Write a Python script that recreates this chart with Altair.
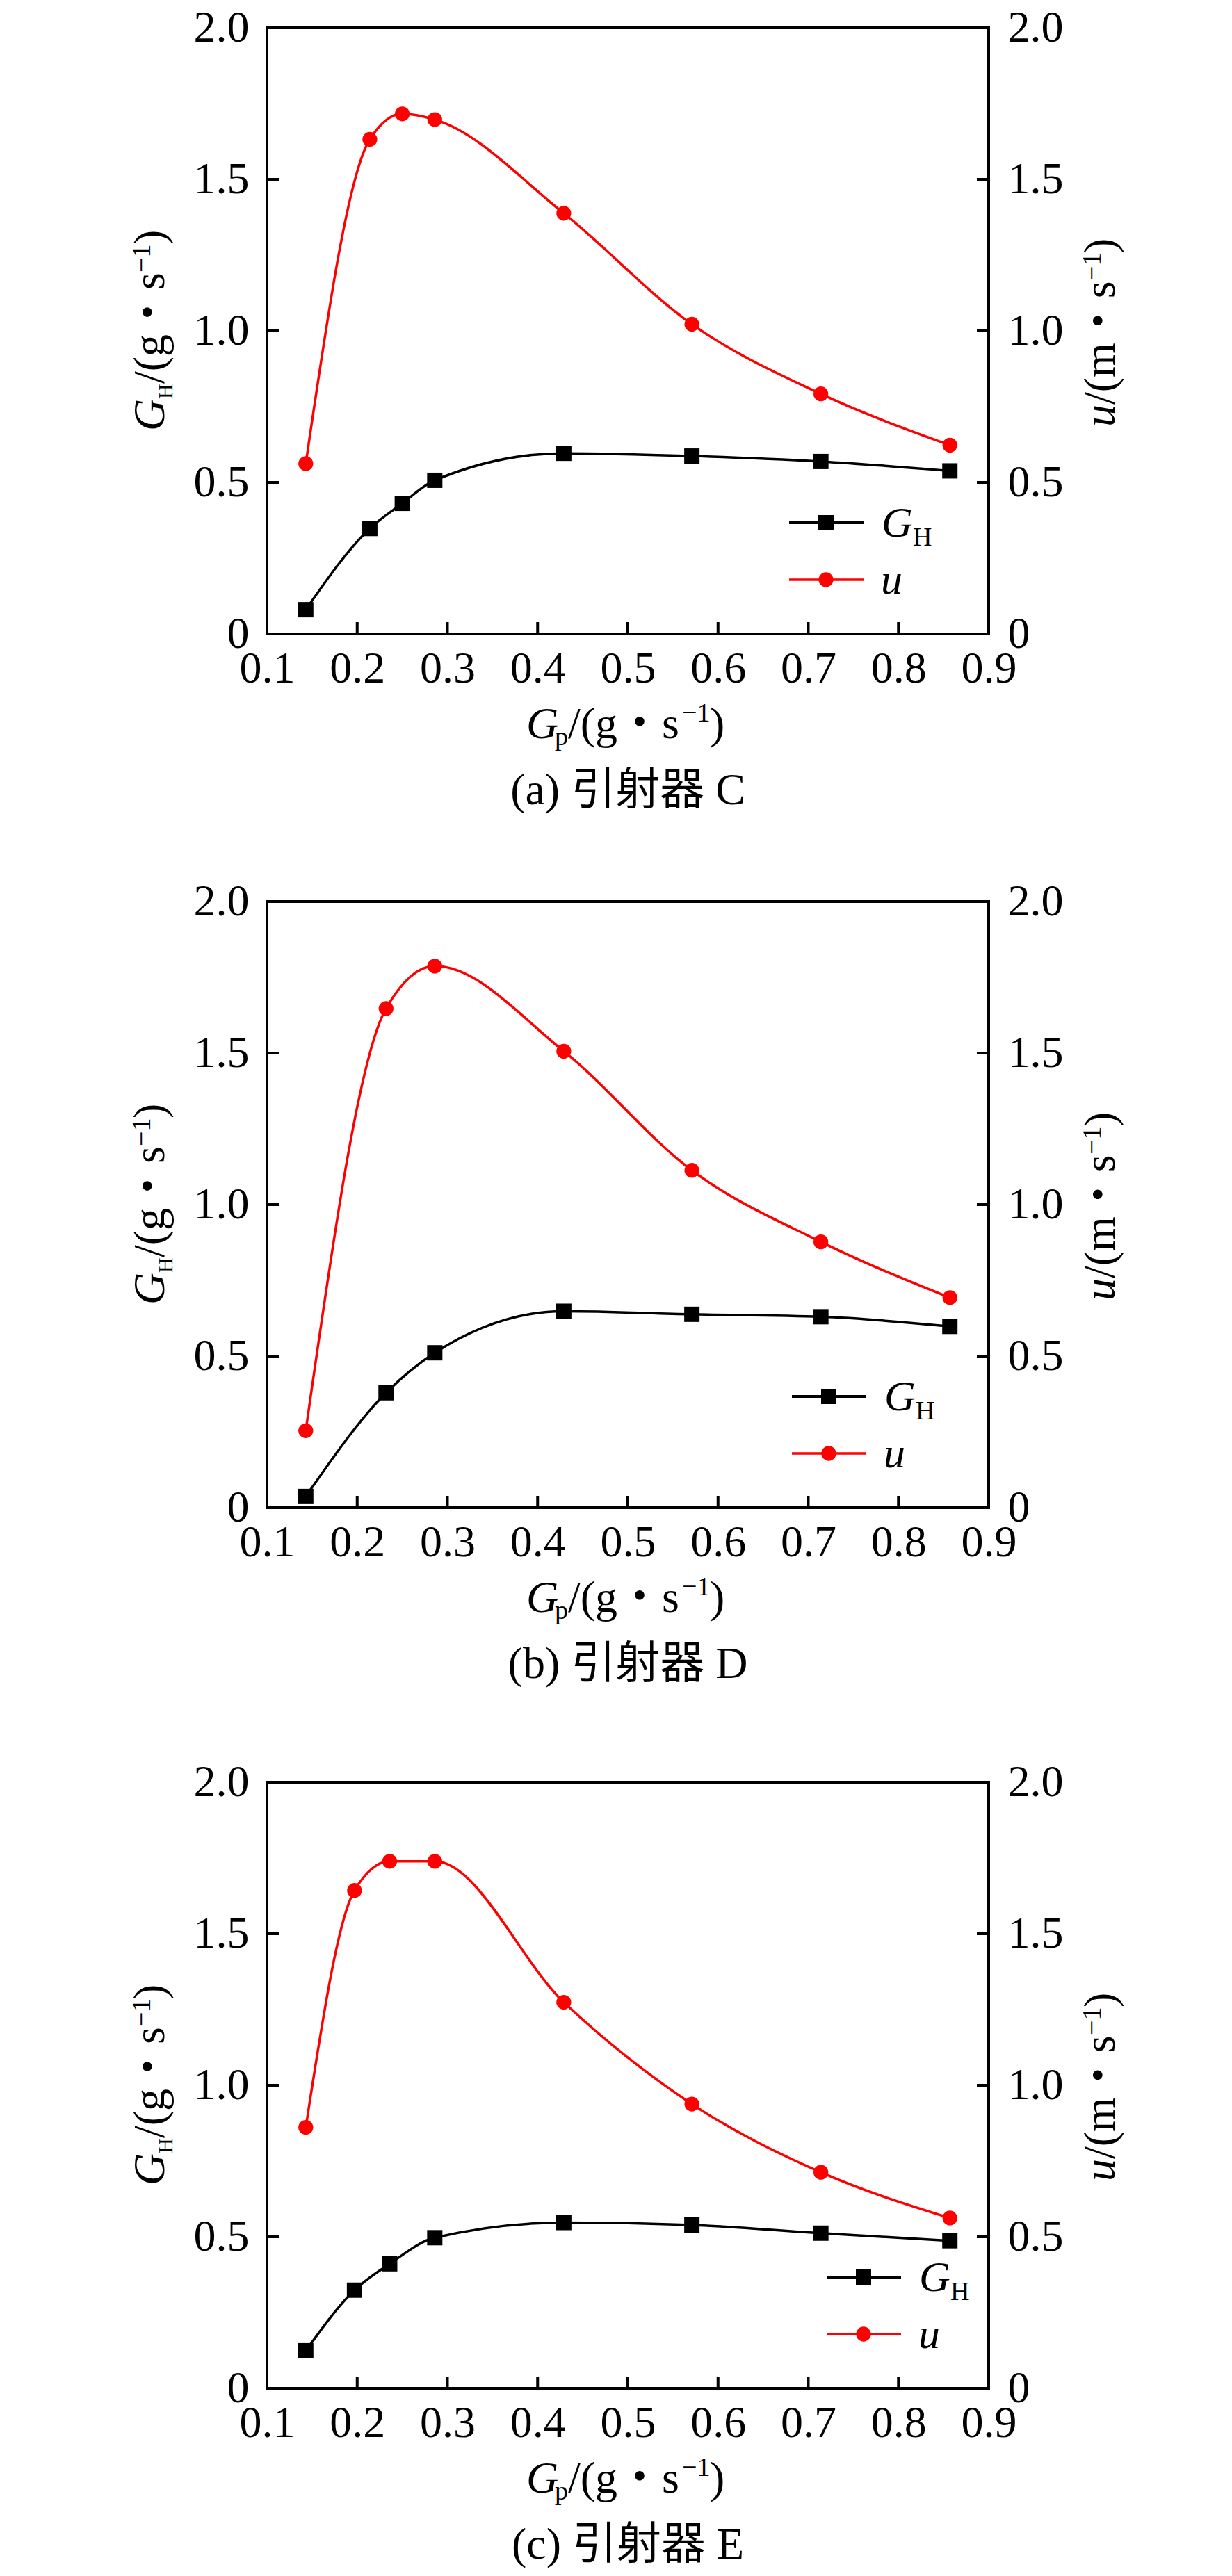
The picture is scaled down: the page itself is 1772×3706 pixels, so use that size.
import altair as alt
import pandas as pd

FONT = "Liberation Serif, Noto Sans CJK SC"
PW, PH = 1038, 872
TL = 17
RED = "#ff0000"

# ---- data ----
x_a = [0.143, 0.214, 0.250, 0.286, 0.429, 0.571, 0.714, 0.857]
gh_a = [0.080, 0.348, 0.431, 0.507, 0.596, 0.587, 0.569, 0.538]
u_a = [0.562, 1.632, 1.716, 1.697, 1.388, 1.022, 0.792, 0.623]

x_b = [0.143, 0.232, 0.286, 0.429, 0.571, 0.714, 0.857]
gh_b = [0.037, 0.379, 0.511, 0.648, 0.638, 0.630, 0.598]
u_b = [0.254, 1.647, 1.787, 1.506, 1.113, 0.877, 0.693]

x_c = [0.143, 0.197, 0.236, 0.286, 0.429, 0.571, 0.714, 0.857]
gh_c = [0.124, 0.324, 0.411, 0.497, 0.547, 0.539, 0.512, 0.487]
u_c = [0.861, 1.643, 1.739, 1.739, 1.274, 0.938, 0.713, 0.562]

x_tick_labels = [0.1, 0.2, 0.3, 0.4, 0.5, 0.6, 0.7, 0.8, 0.9]
y_tick_labels = [0.0, 0.5, 1.0, 1.5, 2.0]
x_inner_ticks = [0.2, 0.3, 0.4, 0.5, 0.6, 0.7, 0.8]
y_inner_ticks = [0.5, 1.0, 1.5]
captions = ["(a) 引射器 C", "(b) 引射器 D", "(c) 引射器 E"]
legend_shift = [0, 4, 54]

one = pd.DataFrame({"k": [0]})

X0, X1, Y0, Y1 = 0.1, 0.9, 0.0, 2.0
xscale = alt.Scale(domain=[X0, X1], nice=False, zero=False)
yscale = alt.Scale(domain=[Y0, Y1], nice=False, zero=False)
LBL = "datum.value == 0 ? '0' : format(datum.value, '.1f')"

xaxis = alt.Axis(values=x_tick_labels, format=".1f", title=None, orient="bottom",
                 ticks=False, tickSize=0, domain=False, grid=False,
                 labelPadding=18, labelFont="Liberation Serif", labelFontSize=64,
                 labelColor="black", labelOverlap=False, labelFlush=False, labelBound=False)
yaxis_l = alt.Axis(values=y_tick_labels, labelExpr=LBL, title=None, orient="left",
                   ticks=False, tickSize=0, domain=False, grid=False,
                   labelPadding=26, labelFont="Liberation Serif", labelFontSize=64,
                   labelColor="black", labelOverlap=False, labelFlush=False, labelBound=False)
yaxis_r = alt.Axis(values=y_tick_labels, labelExpr=LBL, title=None, orient="right",
                   ticks=False, tickSize=0, domain=False, grid=False,
                   labelPadding=27, labelFont="Liberation Serif", labelFontSize=64,
                   labelColor="black", labelOverlap=False, labelFlush=False, labelBound=False)


def txt(s, x, y, size=64, style="normal", angle=0, align="left"):
    return alt.Chart(one).mark_text(
        text=s, font=FONT, fontSize=size, fontStyle=style, angle=angle,
        align=align, baseline="alphabetic", color="black"
    ).encode(x=alt.value(x), y=alt.value(y))


def panel(xs, gh, us, caption, lx, bottom_anchor):
    df = pd.DataFrame({"x": xs, "gh": gh, "u": us})
    xenc = alt.X("x:Q", scale=xscale, axis=xaxis)
    dx = TL * (X1 - X0) / PW
    dy = TL * (Y1 - Y0) / PH

    # inward tick segments built from the tick values
    segs = []
    for t in x_inner_ticks:
        segs.append({"xa": t, "xb": t, "ya": Y0, "yb": Y0 + dy})
    for t in y_inner_ticks:
        segs.append({"xa": X0, "xb": X0 + dx, "ya": t, "yb": t})
        segs.append({"xa": X1 - dx, "xb": X1, "ya": t, "yb": t})
    seg_df = pd.DataFrame(segs)

    # G_H series (left axis)
    y_gh = alt.Y("gh:Q", scale=yscale, axis=yaxis_l)
    gh_line = alt.Chart(df).mark_line(interpolate="monotone", color="black",
                                      strokeWidth=3.5).encode(x=xenc, y=y_gh)
    gh_pts = alt.Chart(df).mark_point(shape="square", filled=True, size=484,
                                      color="black", opacity=1).encode(x=xenc, y=y_gh)
    ticks = alt.Chart(seg_df).mark_rule(color="black", strokeWidth=4).encode(
        x=alt.X("xa:Q", scale=xscale, axis=xaxis), x2="xb:Q",
        y=alt.Y("ya:Q", scale=yscale, axis=yaxis_l), y2="yb:Q")
    gh_layer = alt.layer(gh_line, gh_pts, ticks)

    # u series (right axis)
    y_u = alt.Y("u:Q", scale=yscale, axis=yaxis_r)
    u_line = alt.Chart(df).mark_line(interpolate="monotone", color=RED,
                                     strokeWidth=3.5).encode(x=xenc, y=y_u)
    u_pts = alt.Chart(df).mark_point(shape="circle", filled=True, size=452,
                                     color=RED, opacity=1).encode(x=xenc, y=y_u)
    u_layer = alt.layer(u_line, u_pts)

    frame = alt.Chart(one).mark_rect(fill="transparent", stroke="black",
                                     strokeWidth=4).encode(
        x=alt.value(0), x2=alt.value(PW), y=alt.value(0), y2=alt.value(PH))

    # legend
    leg = [
        alt.Chart(one).mark_rule(color="black", strokeWidth=4).encode(
            x=alt.value(751 + lx), x2=alt.value(858 + lx), y=alt.value(712)),
        alt.Chart(one).mark_point(shape="square", filled=True, size=484, color="black",
                                  opacity=1).encode(x=alt.value(804 + lx), y=alt.value(712)),
        alt.Chart(one).mark_rule(color=RED, strokeWidth=3.5).encode(
            x=alt.value(751 + lx), x2=alt.value(858 + lx), y=alt.value(794)),
        alt.Chart(one).mark_point(shape="circle", filled=True, size=452, color=RED,
                                  opacity=1).encode(x=alt.value(804 + lx), y=alt.value(794)),
        txt("G", 884 + lx, 732, 62, "italic"),
        txt("H", 929 + lx, 745, 38),
        txt("u", 883 + lx, 814, 62, "italic"),
    ]

    # left title  G_H/(g・s^-1)
    lt = [
        txt("G", -148, 580, 64, "italic", 270),
        txt("H", -136, 534, 30, "normal", 270),
        txt("/(g・s", -148, 512, 64, "normal", 270),
        txt("−1", -168, 352, 38, "normal", 270),
        txt(")", -148, 312, 64, "normal", 270),
    ]
    # right title  u/(m・s^-1)
    rt = [
        txt("u", 1219, 574, 64, "italic", 270),
        txt("/(m・s", 1219, 542, 64, "normal", 270),
        txt("−1", 1199, 364, 38, "normal", 270),
        txt(")", 1219, 324, 64, "normal", 270),
    ]
    # x title  G_p/(g・s^-1)
    xt = [
        txt("G", 373, 1022, 64, "italic"),
        txt("p", 414, 1032, 38),
        txt("/(g・s", 433, 1022, 64),
        txt("−1", 597, 998, 38),
        txt(")", 637, 1022, 64),
    ]
    cap = [txt(caption, 519, 1117, 64, "normal", 0, "center")]

    anchor = alt.Chart(one).mark_rule(strokeOpacity=0, strokeWidth=1).encode(
        x=alt.value(-376), x2=alt.value(-376), y=alt.value(-32), y2=alt.value(bottom_anchor))

    return alt.layer(
        gh_layer, u_layer, frame, *leg, *lt, *rt, *xt, *cap, anchor
    ).resolve_scale(y="independent").properties(width=PW, height=PH)


pa = panel(x_a, gh_a, u_a, captions[0], legend_shift[0], 1160)
pb = panel(x_b, gh_b, u_b, captions[1], legend_shift[1], 1160)
pc = panel(x_c, gh_c, u_c, captions[2], legend_shift[2], 1120)

chart = alt.vconcat(alt.vconcat(pa, pb, spacing=65), pc, spacing=75).properties(
    padding=0, background="white"
).configure_view(stroke=None)

chart.save("out.html", embed_options={"renderer": "svg", "actions": False})
